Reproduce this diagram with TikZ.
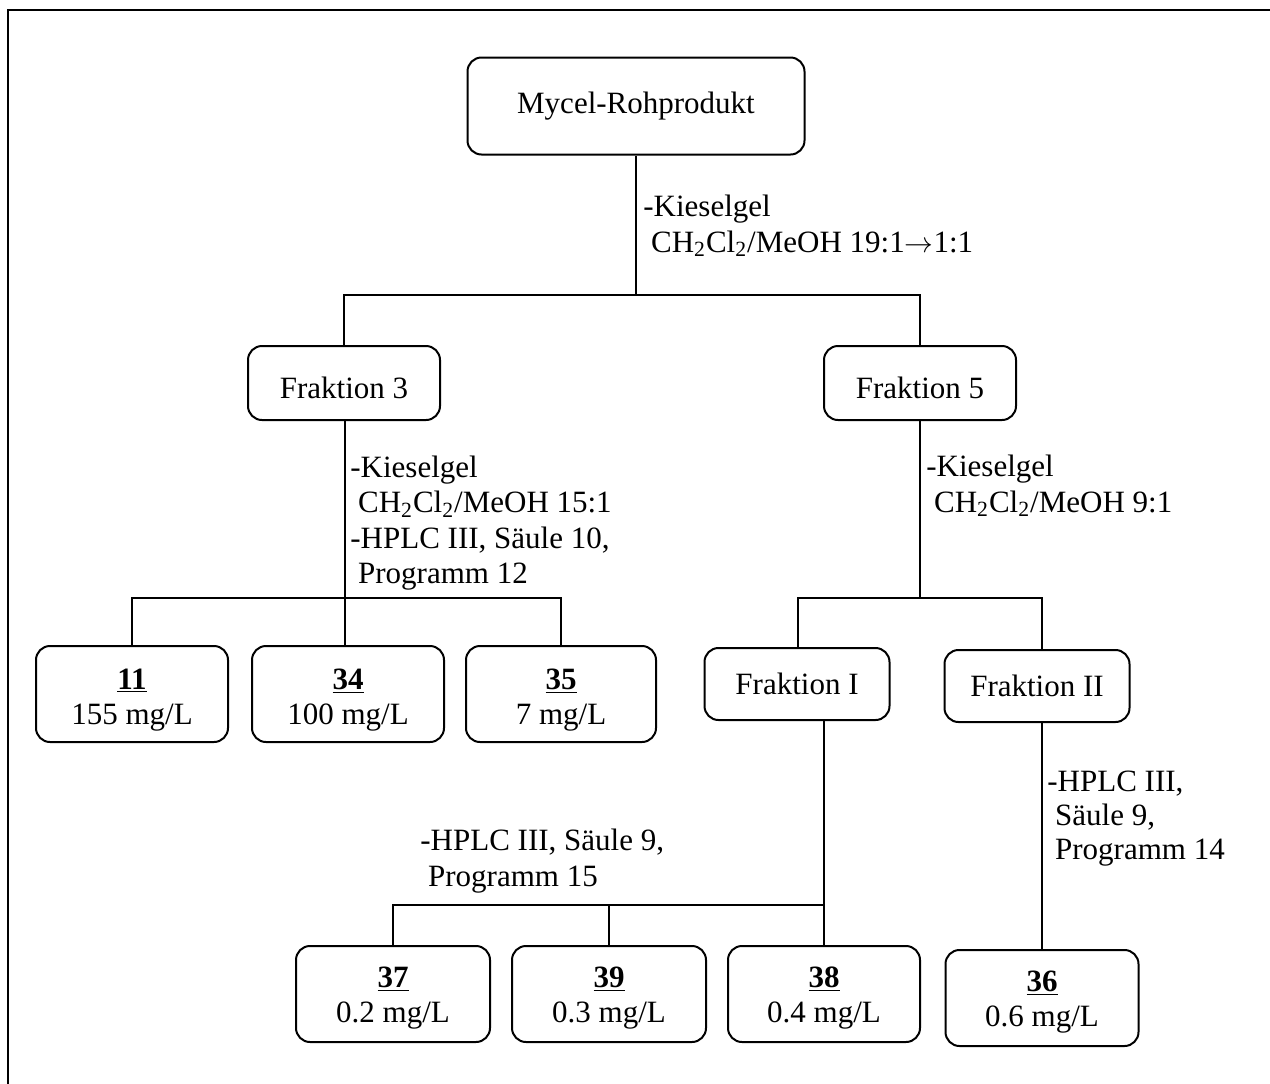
\documentclass[tikz,border=0pt]{standalone}
\usepackage{fontspec}
\setmainfont{Liberation Serif}
% invisible strut that sets the first line of a box a little lower
\newcommand\lowstrut[1]{\rule{0pt}{#1}}
\begin{document}
\begin{tikzpicture}[x=0.5pt,y=-0.5pt,
  txt/.style={font=\fontsize{15.5}{17.6}\selectfont},
  box/.style={txt,draw,line width=1pt,rounded corners=7pt,align=center,inner sep=0pt},
  fbox/.style={box,minimum width=96pt,minimum height=37pt},
  cbox/.style={box,minimum width=96pt,minimum height=48pt},
  lbl/.style={txt,anchor=west,align=left,inner sep=0pt},
  conn/.style={line width=0.9pt}]
\useasboundingbox (0,0) rectangle (1270,1083);
% outer frame
\draw[line width=1.1pt] (8,1090) -- (8,10) -- (1280,10);

% nodes
\node[box,minimum width=168.5pt,minimum height=48.5pt] (myc) at (636,106) {Mycel-Rohprodukt};
\node[fbox] (f3) at (344,383) {\lowstrut{15.5pt}Fraktion 3};
\node[fbox] (f5) at (920,383) {\lowstrut{15.5pt}Fraktion 5};
\node[cbox] (b11) at (132,694) {\lowstrut{16pt}\underline{\textbf{11}}\\155 mg/L};
\node[cbox] (b34) at (348,694) {\lowstrut{16pt}\underline{\textbf{34}}\\100 mg/L};
\node[cbox,minimum width=95pt] (b35) at (561,694) {\lowstrut{16pt}\underline{\textbf{35}}\\7 mg/L};
\node[fbox,minimum width=92.5pt,minimum height=36pt] (fI) at (797,684) {Fraktion I};
\node[fbox,minimum width=92.5pt,minimum height=36pt] (fII) at (1037,686) {Fraktion II};
\node[cbox,minimum width=97pt] (b37) at (393,994) {\lowstrut{14pt}\underline{\textbf{37}}\\0.2 mg/L};
\node[cbox,minimum width=97pt] (b39) at (609,994) {\lowstrut{14pt}\underline{\textbf{39}}\\0.3 mg/L};
\node[cbox,minimum width=96pt] (b38) at (824,994) {\lowstrut{14pt}\underline{\textbf{38}}\\0.4 mg/L};
\node[cbox,minimum width=96.5pt] (b36) at (1042,998) {\lowstrut{14pt}\underline{\textbf{36}}\\0.6 mg/L};

% junction points
\coordinate (j1) at (636,295);
\coordinate (j2) at (345,598);
\coordinate (j3) at (920,598);
\coordinate (j3l) at (798,598);
\coordinate (j3r) at (1042,598);
\coordinate (j4) at (824,905);

% connectors
\draw[conn] (myc.south) -- (j1);
\draw[conn] (f3.north) |- (j1) -| (f5.north);
\draw[conn] (f3.south -| j2) -- (j2);
\draw[conn] (b11.north) |- (j2) -| (b35.north);
\draw[conn] (j2) -- (j2 |- b34.north);
\draw[conn] (f5.south) -- (j3);
\draw[conn] (j3l |- fI.north) -- (j3l) -- (j3r) -- (j3r |- fII.north);
\draw[conn] (fI.south -| b38.north) -- (b38.north);
\draw[conn] (b37.north) |- (j4);
\draw[conn] (b39.north) -- (b39.north |- j4);
\draw[conn] (fII.south -| b36.north) -- (b36.north);

% step labels
\node[lbl] (l1) at (643,226) {-Kieselgel\\\hspace{0.25em}CH\textsubscript{2}Cl\textsubscript{2}/MeOH 19:1$\rightarrow$1:1};
\node[lbl] (l2) at (350,523) {-Kieselgel\\\hspace{0.25em}CH\textsubscript{2}Cl\textsubscript{2}/MeOH 15:1\\-HPLC III, Säule 10,\\\hspace{0.25em}Programm 12};
\node[lbl] (l3) at (926,486) {-Kieselgel\\\hspace{0.25em}CH\textsubscript{2}Cl\textsubscript{2}/MeOH 9:1};
\node[lbl,font=\fontsize{15.5}{17}\selectfont] (l4) at (1047,819) {-HPLC III,\\\hspace{0.25em}Säule 9,\\\hspace{0.25em}Programm 14};
\node[lbl] (l5) at (420,861) {-HPLC III, Säule 9,\\\hspace{0.25em}Programm 15};
\end{tikzpicture}
\end{document}
